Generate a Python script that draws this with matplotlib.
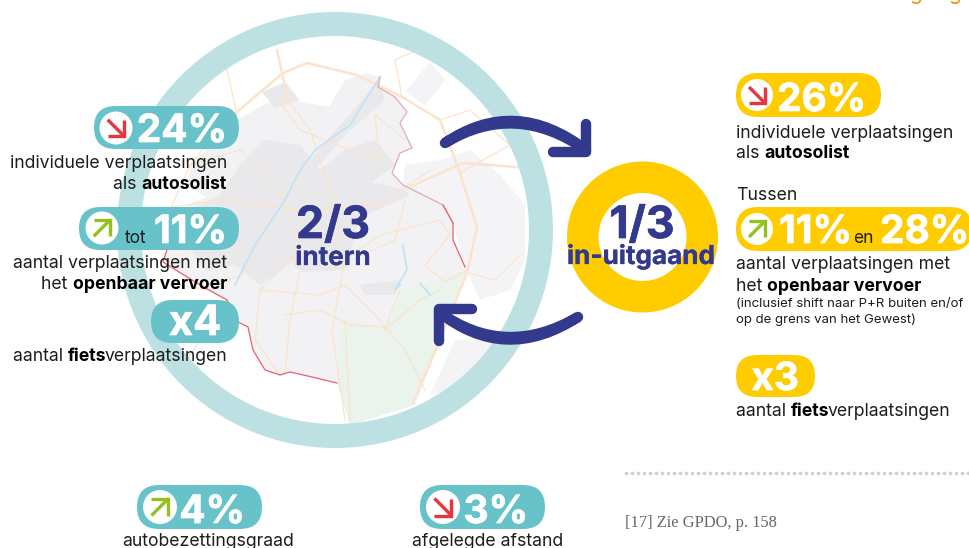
import matplotlib
matplotlib.use('Agg')
import matplotlib.pyplot as plt
import matplotlib.patheffects as pe
from matplotlib.patches import Circle, FancyBboxPatch, Polygon, PathPatch, Wedge
from matplotlib.path import Path

FONT = 'Inter'
TEAL = '#67C3C9'
RING = '#BDE1E3'
YELLOW = '#FFCC00'
NAVY = '#333A8E'
RED = '#E8343A'
GREEN = '#95C11F'
INK = '#1D1D1B'

# shares and figures from the picture
share_labels = ['2/3', '1/3']
share_names = ['intern', 'in-uitgaand']
left_values = ['24%', '11%', 'x4']
right_values = ['26%', '11%', '28%', 'x3']
bottom_values = ['4%', '3%']
bottom_labels = ['autobezettingsgraad', 'afgelegde afstand']
footnote = '[17] Zie GPDO, p. 158'

# map shapes, in picture pixels
region = [(380, 77), (378, 87), (395, 97), (407, 112), (400, 123), (412, 148), (400, 153), (392, 173),
          (403, 185), (423, 195), (443, 205), (453, 223), (453, 240), (465, 267), (440, 340), (415, 405),
          (350, 425), (337, 383), (312, 377), (290, 372), (280, 375), (265, 370), (253, 350), (248, 327),
          (238, 322), (227, 300), (200, 285), (163, 262), (170, 240), (165, 215), (207, 197), (187, 187),
          (190, 165), (240, 118), (277, 98), (330, 107), (333, 100), (345, 80), (367, 73)]
border_pink = region[:11] + [(453, 223)]
border_red = [(443, 205), (453, 223), (453, 240), (465, 267)]
border_south = region[17:29]
forest = [(338, 320), (385, 327), (403, 290), (467, 270), (437, 345), (413, 405), (350, 425), (338, 385)]
suburbs = [[(405, 165), (440, 160), (470, 150), (500, 175), (525, 205), (525, 260), (510, 290), (480, 300),
            (465, 267), (453, 223), (443, 205), (403, 185)],
           [(405, 92), (430, 62), (445, 80), (425, 105)],
           [(455, 340), (505, 340), (480, 385), (430, 395)]]
builtup = [[(180, 215), (220, 195), (240, 165), (265, 140), (300, 145), (320, 170), (345, 150), (375, 140), (395, 165),
            (372, 182), (405, 190), (410, 195), (360, 218), (345, 270), (300, 272), (292, 262), (260, 285),
            (235, 265), (205, 270), (190, 250)],
           [(300, 170), (345, 120), (378, 80), (385, 100), (345, 135), (315, 170)],
           [(262, 92), (285, 82), (300, 100), (275, 108)],
           [(360, 285), (400, 280), (395, 295), (365, 295)]]
main_roads = [[(225, 122), (283, 73), (307, 63), (357, 75), (402, 97), (440, 120), (460, 173), (477, 227),
               (467, 273), (437, 347), (413, 403)],
              [(410, 187), (463, 163), (530, 168)],
              [(277, 50), (288, 100)]]
roads = [[(288, 100), (310, 130), (330, 190), (345, 260), (332, 330), (345, 420)],
         [(150, 210), (220, 200), (300, 210), (380, 205), (430, 170)],
         [(190, 165), (240, 150), (280, 190), (300, 250), (260, 290), (255, 340), (280, 375)],
         [(277, 98), (300, 130), (350, 150), (380, 160), (375, 115), (405, 140)],
         [(330, 270), (380, 235), (440, 220), (450, 235), (425, 265), (445, 282), (467, 270)],
         [(260, 290), (320, 295), (345, 285), (380, 320), (385, 330), (420, 300), (440, 290)],
         [(285, 315), (320, 310), (350, 325), (385, 327), (400, 290)],
         [(300, 272), (290, 320), (285, 372)],
         [(330, 270), (395, 240), (405, 200)],
         [(385, 327), (405, 350), (425, 390)],
         [(467, 273), (495, 280), (520, 255)],
         [(345, 320), (348, 380), (350, 420)],
         [(460, 173), (510, 145), (470, 110), (440, 120)],
         [(402, 97), (395, 60), (440, 40)],
         [(237, 115), (225, 60)], [(180, 285), (210, 290), (250, 270)],
         [(170, 210), (190, 165), (225, 122)], [(227, 300), (160, 400)]]
canal = [[(380, 77), (350, 125), (315, 150), (300, 170), (285, 200), (255, 245), (235, 285)],
         [(403, 245), (407, 270), (395, 290), (400, 285)],
         [(420, 283), (430, 295)]]

fig = plt.figure(figsize=(9.69, 5.48), dpi=100)
ax = fig.add_axes([0, 0, 1, 1])
ax.set_xlim(0, 969)
ax.set_ylim(548, 0)
ax.axis('off')


def pill(x0, x1, y0, y1, color):
    r = (y1 - y0) / 2
    ax.add_patch(FancyBboxPatch((x0 + r, y0 + r), x1 - x0 - 2 * r, 0, lw=0, fc=color, zorder=5,
                                boxstyle=f'round,pad={r},rounding_size={r}'))


def badge(cx, cy, r, up):
    ax.add_patch(Circle((cx, cy), r, fc='white', lw=0, zorder=6))
    color = GREEN if up else RED
    s = r * 0.5
    if up:
        ax.plot([cx - s, cx + s], [cy + s, cy - s], color=color, lw=2.4, zorder=7, solid_capstyle='butt')
        ax.plot([cx - s, cx + s, cx + s], [cy - s, cy - s, cy + s], color=color, lw=2.4, zorder=7,
                solid_joinstyle='miter', solid_capstyle='butt')
    else:
        ax.plot([cx - s, cx + s], [cy - s, cy + s], color=color, lw=2.4, zorder=7, solid_capstyle='butt')
        ax.plot([cx + s, cx + s, cx - s], [cy - s, cy + s, cy + s], color=color, lw=2.4, zorder=7,
                solid_joinstyle='miter', solid_capstyle='butt')


def big(x, y, s, ha='left', size=28, color='white', stroke=0.5):
    ax.text(x, y, s, ha=ha, va='baseline', fontsize=size, fontweight='bold', color=color, family=FONT,
            zorder=8, path_effects=[pe.withStroke(linewidth=stroke, foreground=color)])


def rich(x, y, parts, ha='left', size=12.7):
    # parts is a list of (text, bold), laid out one after the other
    renderer = fig.canvas.get_renderer()
    texts = [ax.text(0, y, s, fontsize=size, va='baseline', color=INK if not b else 'black', family=FONT,
                     fontweight='bold' if b else 'normal', zorder=8) for s, b in parts]
    sizes = [t.get_window_extent(renderer).width for t in texts]
    sizes = [w - 2 if not s.endswith(' ') and len(parts) > 1 and i < len(parts) - 1 else w
             for i, (w, (s, b)) in enumerate(zip(sizes, parts))]
    pos = x - sum(sizes) if ha == 'right' else x - sum(sizes) / 2 if ha == 'center' else x
    for t, w in zip(texts, sizes):
        t.set_x(pos)
        pos += w


# map, clipped to the inside of the ring
clip = Circle((335, 230), 198, transform=ax.transData)
items = [Polygon(region, fc='#F2F2F4', lw=0, zorder=1)]
items += [Polygon(p, fc='#F4F4F6', lw=0, zorder=1) for p in suburbs]
items += [Polygon(forest, fc='#EAF3EC', lw=0, zorder=1.1)]
items += [Polygon(p, fc='#E9E9EC', lw=0, zorder=1.2) for p in builtup]
for it in items:
    ax.add_patch(it)
    it.set_clip_path(clip)
for rows, width in [(roads, 0.9), (main_roads, 1.8)]:
    for r in rows:
        xs, ys = zip(*r)
        for ln in ax.plot(xs, ys, color='#FCE3CB', lw=width, zorder=1.5):
            ln.set_clip_path(clip)
for c in canal:
    xs, ys = zip(*c)
    ax.plot(xs, ys, color='#BFE3F5', lw=1.2, zorder=1.6)
for b, col in [(border_pink, '#E3A9B4'), (border_red, '#E8606E'), (border_south, '#E8606E')]:
    xs, ys = zip(*b)
    ax.plot(xs, ys, color=col, lw=0.9, zorder=1.7)

# big ring and in-out ring
ax.add_patch(Wedge((335, 230), 218, 0, 360, width=24, fc=RING, lw=0, zorder=2))
ax.add_patch(Wedge((642.5, 237), 75.5, 0, 360, width=31.5, fc=YELLOW, lw=0, zorder=2))

# curved arrows, a little thicker in the middle
for p0, c, p1, head in [((445, 143), (515, 98), (586, 150), [(586, 124), (586, 152), (553, 152)]),
                        ((578, 317), (505, 362), (439, 312), [(472, 309), (439, 309), (439, 341)])]:
    verts = [p0, (c[0], c[1] - 2.5), p1, (c[0], c[1] + 2.5), p0, p0]
    codes = [Path.MOVETO, Path.CURVE3, Path.CURVE3, Path.CURVE3, Path.CURVE3, Path.CLOSEPOLY]
    ax.add_patch(PathPatch(Path(verts, codes), fc=NAVY, ec=NAVY, lw=7.5, capstyle='round',
                           joinstyle='round', zorder=3))
    xs, ys = zip(*head)
    ax.plot(xs, ys, color=NAVY, lw=7.5, solid_capstyle='round', solid_joinstyle='round', zorder=3)

big(333, 238, share_labels[0], ha='center', size=32, color=NAVY)
big(333, 265, share_names[0], ha='center', size=18.8, color=NAVY, stroke=0.2)
big(642, 238, share_labels[1], ha='center', size=32, color=NAVY)
big(641, 264, share_names[1], ha='center', size=18.8, color=NAVY, stroke=0.2)

# left column
pill(94, 239, 106, 149, TEAL)
badge(116, 128, 16.5, False)
big(227, 142, left_values[0], ha='right')
rich(227, 168, [('individuele verplaatsingen', False)], 'right')
rich(227, 189, [('als ', False), ('autosolist', True)], 'right')

pill(79, 239, 207, 250, TEAL)
badge(102, 228, 16.5, True)
ax.text(125, 243, 'tot', fontsize=12.5, color=INK, family=FONT, zorder=8)
big(227, 243, left_values[1], ha='right')
rich(227, 268, [('aantal verplaatsingen met', False)], 'right')
rich(227, 289, [('het ', False), ('openbaar vervoer', True)], 'right')

pill(151, 239, 300, 343, TEAL)
big(195, 335, left_values[2], ha='center', size=30)
rich(227, 361, [('aantal ', False), ('fiets', True), ('verplaatsingen', False)], 'right')

# right column
pill(736, 881, 73, 117, YELLOW)
badge(757, 95, 16, False)
big(777, 111, right_values[0])
rich(736, 138, [('individuele verplaatsingen', False)])
rich(736, 158, [('als ', False), ('autosolist', True)])
rich(736, 200, [('Tussen', False)])

pill(736, 972, 207, 251, YELLOW)
badge(757, 229, 16, True)
big(779, 243, right_values[1])
ax.text(853, 243, 'en', fontsize=12.5, color=INK, family=FONT, zorder=8)
big(880, 243, right_values[2])
rich(736, 269, [('aantal verplaatsingen met', False)])
rich(736, 291, [('het ', False), ('openbaar vervoer', True)])
rich(736, 307, [('(inclusief shift naar P+R buiten en/of', False)], size=9.5)
rich(736, 323, [('op de grens van het Gewest)', False)], size=9.5)

pill(736, 815, 355, 397, YELLOW)
big(775, 390, right_values[3], ha='center')
rich(736, 416, [('aantal ', False), ('fiets', True), ('verplaatsingen', False)])

# bottom row
for x0, x1, cx, up, value, label, mid in zip([137, 420], [262, 545], [160, 443], [True, False],
                                             bottom_values, bottom_labels, [208, 488]):
    pill(x0, x1, 485, 529, TEAL)
    badge(cx, 507, 17, up)
    big(x1 - 17, 523, value, ha='right')
    rich(mid, 546, [(label, False)], 'center')

# footnote, dotted rule and the cut-off heading at the top edge
ax.plot(range(626, 969, 6), [473] * len(range(626, 969, 6)), ls='none', marker='o', ms=2.6, color='#CFCFCF',
        mew=0)
ax.text(625, 527, footnote, fontsize=11.9, color='#666666', family='Liberation Serif', va='baseline')
for x in [910, 949]:
    ax.text(x, 0.5, 'g', fontsize=15, color='#F39200', family=FONT, va='baseline')

fig.savefig('out.png', dpi=100)
